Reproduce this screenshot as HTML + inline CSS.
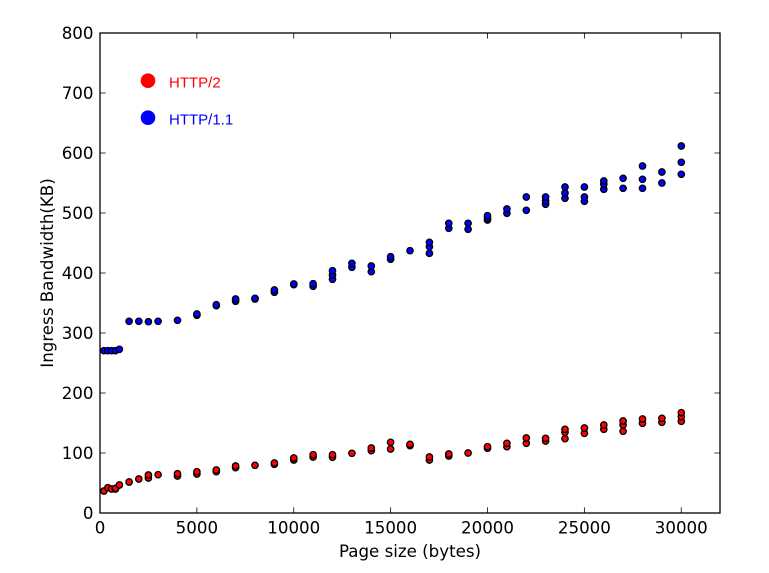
<!DOCTYPE html>
<html><head><meta charset="utf-8"><style>
html,body{margin:0;padding:0;background:#fff;}
svg{display:block;}
.t{font-family:"DejaVu Sans","Liberation Sans",sans-serif;font-size:16.67px;fill:#000;}
.lg{font-family:"Liberation Sans",sans-serif;font-size:15px;}
</style></head><body>
<svg width="769" height="573" viewBox="0 0 769 573" xmlns="http://www.w3.org/2000/svg">
<rect width="769" height="573" fill="#fff"/>
<!-- ticks -->
<g stroke="#000" stroke-width="0.8">
<path d="M196.875 513v-5.6M293.75 513v-5.6M390.625 513v-5.6M487.5 513v-5.6M584.375 513v-5.6M681.25 513v-5.6"/>
<path d="M196.875 33v5.6M293.75 33v5.6M390.625 33v5.6M487.5 33v5.6M584.375 33v5.6M681.25 33v5.6"/>
<path d="M100 453h5.6M100 393h5.6M100 333h5.6M100 273h5.6M100 213h5.6M100 153h5.6M100 93h5.6"/>
<path d="M720 453h-5.6M720 393h-5.6M720 333h-5.6M720 273h-5.6M720 213h-5.6M720 153h-5.6M720 93h-5.6"/>
</g>
<!-- tick labels -->
<g class="t" text-anchor="middle">
<text x="100" y="533.5">0</text>
<text x="196.875" y="533.5">5000</text>
<text x="293.75" y="533.5">10000</text>
<text x="390.625" y="533.5">15000</text>
<text x="487.5" y="533.5">20000</text>
<text x="584.375" y="533.5">25000</text>
<text x="681.25" y="533.5">30000</text>
</g>
<g class="t" text-anchor="end">
<text x="93.5" y="519">0</text>
<text x="93.5" y="459">100</text>
<text x="93.5" y="399">200</text>
<text x="93.5" y="339">300</text>
<text x="93.5" y="279">400</text>
<text x="93.5" y="219">500</text>
<text x="93.5" y="159">600</text>
<text x="93.5" y="99">700</text>
<text x="93.5" y="39">800</text>
</g>
<text class="t" x="410" y="557" text-anchor="middle">Page size (bytes)</text>
<text class="t" transform="translate(53,273) rotate(-90)" text-anchor="middle">Ingress Bandwidth(KB)</text>
<!-- blue series -->
<g fill="#0000ff" stroke="#000" stroke-width="1.3">
<circle cx="103.9" cy="350.7" r="3.2"/><circle cx="107.8" cy="350.7" r="3.2"/><circle cx="111.6" cy="350.7" r="3.2"/><circle cx="115.5" cy="350.7" r="3.2"/><circle cx="119.4" cy="349.3" r="3.2"/>
<circle cx="129.1" cy="321.3" r="3.2"/><circle cx="138.8" cy="321.3" r="3.2"/><circle cx="148.4" cy="321.7" r="3.2"/><circle cx="158.1" cy="321.3" r="3.2"/><circle cx="177.5" cy="320.3" r="3.2"/>
<circle cx="196.9" cy="315.3" r="3.2"/><circle cx="196.9" cy="314" r="3.2"/>
<circle cx="216.3" cy="305.7" r="3.2"/><circle cx="216.3" cy="304.7" r="3.2"/>
<circle cx="235.6" cy="301.3" r="3.2"/><circle cx="235.6" cy="299" r="3.2"/>
<circle cx="255" cy="299" r="3.2"/><circle cx="255" cy="298.3" r="3.2"/>
<circle cx="274.4" cy="292.3" r="3.2"/><circle cx="274.4" cy="290" r="3.2"/>
<circle cx="293.8" cy="284.7" r="3.2"/><circle cx="293.8" cy="284" r="3.2"/>
<circle cx="313.1" cy="286.3" r="3.2"/><circle cx="313.1" cy="283.7" r="3.2"/>
<circle cx="332.5" cy="279.3" r="3.2"/><circle cx="332.5" cy="275" r="3.2"/><circle cx="332.5" cy="270.7" r="3.2"/>
<circle cx="351.9" cy="267.3" r="3.2"/><circle cx="351.9" cy="263.3" r="3.2"/>
<circle cx="371.3" cy="271.7" r="3.2"/><circle cx="371.3" cy="266" r="3.2"/>
<circle cx="390.6" cy="259.3" r="3.2"/><circle cx="390.6" cy="256.7" r="3.2"/>
<circle cx="410" cy="250.7" r="3.2"/>
<circle cx="429.4" cy="253.3" r="3.2"/><circle cx="429.4" cy="246.7" r="3.2"/><circle cx="429.4" cy="242.3" r="3.2"/>
<circle cx="448.8" cy="228.3" r="3.2"/><circle cx="448.8" cy="223.3" r="3.2"/>
<circle cx="468.1" cy="229.3" r="3.2"/><circle cx="468.1" cy="223.3" r="3.2"/>
<circle cx="487.5" cy="220" r="3.2"/><circle cx="487.5" cy="218" r="3.2"/><circle cx="487.5" cy="215.7" r="3.2"/>
<circle cx="506.9" cy="213.3" r="3.2"/><circle cx="506.9" cy="209" r="3.2"/>
<circle cx="526.3" cy="210.3" r="3.2"/><circle cx="526.3" cy="197" r="3.2"/>
<circle cx="545.6" cy="204.3" r="3.2"/><circle cx="545.6" cy="201" r="3.2"/><circle cx="545.6" cy="197" r="3.2"/>
<circle cx="565" cy="198.3" r="3.2"/><circle cx="565" cy="193" r="3.2"/><circle cx="565" cy="187" r="3.2"/>
<circle cx="584.4" cy="201.3" r="3.2"/><circle cx="584.4" cy="197" r="3.2"/><circle cx="584.4" cy="187" r="3.2"/>
<circle cx="603.8" cy="189.3" r="3.2"/><circle cx="603.8" cy="184.3" r="3.2"/><circle cx="603.8" cy="181" r="3.2"/>
<circle cx="623.1" cy="188.3" r="3.2"/><circle cx="623.1" cy="178.3" r="3.2"/>
<circle cx="642.5" cy="188.3" r="3.2"/><circle cx="642.5" cy="179.3" r="3.2"/><circle cx="642.5" cy="166" r="3.2"/>
<circle cx="661.9" cy="183" r="3.2"/><circle cx="661.9" cy="172" r="3.2"/>
<circle cx="681.3" cy="174.3" r="3.2"/><circle cx="681.3" cy="162.3" r="3.2"/><circle cx="681.3" cy="146" r="3.2"/>
</g>
<!-- red series -->
<g fill="#ff0000" stroke="#000" stroke-width="1.3">
<circle cx="103.9" cy="491" r="3.2"/><circle cx="107.8" cy="487.7" r="3.2"/><circle cx="111.6" cy="489" r="3.2"/><circle cx="115.5" cy="489" r="3.2"/><circle cx="115.5" cy="488.3" r="3.2"/><circle cx="119.4" cy="485" r="3.2"/>
<circle cx="129.1" cy="482" r="3.2"/><circle cx="138.8" cy="479" r="3.2"/>
<circle cx="148.4" cy="478" r="3.2"/><circle cx="148.4" cy="475" r="3.2"/>
<circle cx="158.1" cy="474.7" r="3.2"/>
<circle cx="177.5" cy="476" r="3.2"/><circle cx="177.5" cy="473.7" r="3.2"/>
<circle cx="196.9" cy="474" r="3.2"/><circle cx="196.9" cy="471.7" r="3.2"/>
<circle cx="216.3" cy="471.7" r="3.2"/><circle cx="216.3" cy="470" r="3.2"/>
<circle cx="235.6" cy="467.7" r="3.2"/><circle cx="235.6" cy="466" r="3.2"/>
<circle cx="255" cy="465.3" r="3.2"/>
<circle cx="274.4" cy="464.3" r="3.2"/><circle cx="274.4" cy="463" r="3.2"/>
<circle cx="293.8" cy="460" r="3.2"/><circle cx="293.8" cy="458" r="3.2"/>
<circle cx="313.1" cy="457" r="3.2"/><circle cx="313.1" cy="454.7" r="3.2"/>
<circle cx="332.5" cy="457.3" r="3.2"/><circle cx="332.5" cy="454.7" r="3.2"/>
<circle cx="351.9" cy="453.3" r="3.2"/>
<circle cx="371.3" cy="450.7" r="3.2"/><circle cx="371.3" cy="448" r="3.2"/>
<circle cx="390.6" cy="449" r="3.2"/><circle cx="390.6" cy="442.3" r="3.2"/>
<circle cx="410" cy="445.7" r="3.2"/><circle cx="410" cy="444.3" r="3.2"/>
<circle cx="429.4" cy="460" r="3.2"/><circle cx="429.4" cy="457" r="3.2"/>
<circle cx="448.8" cy="456" r="3.2"/><circle cx="448.8" cy="454" r="3.2"/>
<circle cx="468.1" cy="453" r="3.2"/>
<circle cx="487.5" cy="448.3" r="3.2"/><circle cx="487.5" cy="446.7" r="3.2"/>
<circle cx="506.9" cy="446.7" r="3.2"/><circle cx="506.9" cy="443.3" r="3.2"/>
<circle cx="526.3" cy="443.3" r="3.2"/><circle cx="526.3" cy="438" r="3.2"/>
<circle cx="545.6" cy="441" r="3.2"/><circle cx="545.6" cy="438.3" r="3.2"/>
<circle cx="565" cy="438.7" r="3.2"/><circle cx="565" cy="432.3" r="3.2"/><circle cx="565" cy="429.3" r="3.2"/>
<circle cx="584.4" cy="433.3" r="3.2"/><circle cx="584.4" cy="428" r="3.2"/>
<circle cx="603.8" cy="429.3" r="3.2"/><circle cx="603.8" cy="425" r="3.2"/>
<circle cx="623.1" cy="431.3" r="3.2"/><circle cx="623.1" cy="425" r="3.2"/><circle cx="623.1" cy="421" r="3.2"/>
<circle cx="642.5" cy="423.3" r="3.2"/><circle cx="642.5" cy="419" r="3.2"/>
<circle cx="661.9" cy="422.3" r="3.2"/><circle cx="661.9" cy="418.3" r="3.2"/>
<circle cx="681.3" cy="421.3" r="3.2"/><circle cx="681.3" cy="416.7" r="3.2"/><circle cx="681.3" cy="412.7" r="3.2"/>
</g>
<!-- legend -->
<circle cx="148" cy="80.7" r="7.3" fill="#ff0000"/>
<circle cx="148" cy="117.7" r="7.3" fill="#0000ff"/>
<text class="lg" x="169" y="87.5" fill="#ff0000">HTTP/2</text>
<text class="lg" x="169" y="124.3" fill="#0000ff">HTTP/1.1</text>
<!-- frame -->
<rect x="100" y="33" width="620" height="480" fill="none" stroke="#000" stroke-width="1.3"/>
</svg>
</body></html>
